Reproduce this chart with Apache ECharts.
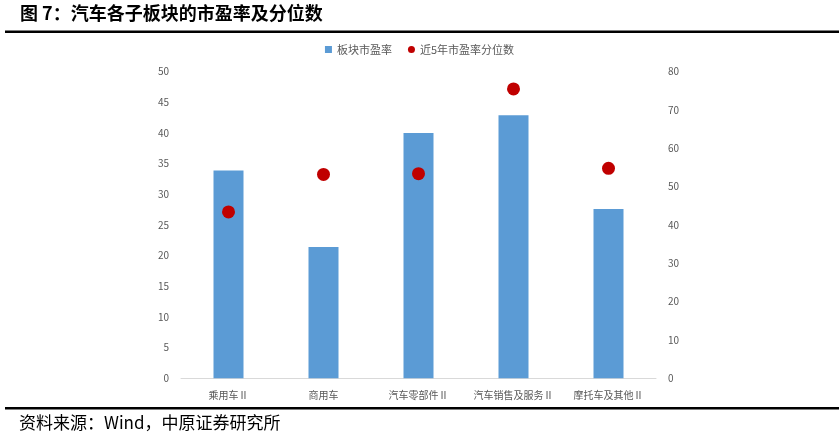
<!DOCTYPE html>
<html><head><meta charset="utf-8">
<script src="https://cdn.jsdelivr.net/npm/echarts@6/dist/echarts.min.js"></script>
<style>html,body{margin:0;padding:0;background:#fff}#c{width:839px;height:440px}</style>
</head><body><div id="c"></div>
<script>
var categories = ['乘用车Ⅱ', '商用车', '汽车零部件Ⅱ', '汽车销售及服务Ⅱ', '摩托车及其他Ⅱ'];
var peValues = [33.9, 21.4, 40.0, 42.9, 27.6];
var pctValues = [43.4, 53.2, 53.4, 75.5, 54.8];
var leftTicks = {min: 0, max: 50, interval: 5};
var rightTicks = {min: 0, max: 80, interval: 10};

var chart = echarts.init(document.getElementById('c'));
var axisLabelStyle = {color: '#595959', fontSize: 10, fontFamily: 'Noto Sans CJK SC'};
chart.setOption({
  animation: false,
  textStyle: {fontFamily: 'Noto Sans CJK SC'},
  grid: {left: 181, right: 183, top: 71.7, bottom: 61.7, containLabel: false},
  legend: {
    top: 39, left: 'center', itemGap: 16,
    textStyle: {color: '#595959', fontSize: 11},
    itemWidth: 7, itemHeight: 7, itemStyle: {borderWidth: 0, opacity: 1},
    data: [{name: '板块市盈率', icon: 'rect'}, {name: '近5年市盈率分位数', icon: 'circle'}]
  },
  xAxis: {
    type: 'category', data: categories,
    axisLine: {lineStyle: {color: '#d9d9d9'}},
    axisTick: {show: false},
    axisLabel: Object.assign({margin: 12, interval: 0}, axisLabelStyle)
  },
  yAxis: [
    {type: 'value', min: leftTicks.min, max: leftTicks.max, interval: leftTicks.interval,
     splitLine: {show: false}, axisLine: {show: false}, axisTick: {show: false},
     axisLabel: Object.assign({margin: 12}, axisLabelStyle)},
    {type: 'value', min: rightTicks.min, max: rightTicks.max, interval: rightTicks.interval,
     splitLine: {show: false}, axisLine: {show: false}, axisTick: {show: false},
     axisLabel: Object.assign({margin: 12}, axisLabelStyle)}
  ],
  series: [
    {name: '板块市盈率', type: 'bar', data: peValues, barWidth: 30,
     itemStyle: {color: '#5b9bd5'}},
    {name: '近5年市盈率分位数', type: 'scatter', yAxisIndex: 1, data: pctValues,
     symbol: 'circle', symbolSize: 13, itemStyle: {color: '#c00000', opacity: 1}}
  ],
  graphic: [
    {type: 'text', left: 20, top: 4, style: {text: '图 7：汽车各子板块的市盈率及分位数', fill: '#000', font: 'bold 18px "Noto Sans CJK SC"'}},
    {type: 'rect', shape: {x: 5, y: 30.5, width: 834, height: 2.5}, style: {fill: '#000'}},
    {type: 'rect', shape: {x: 5, y: 407, width: 834, height: 2.5}, style: {fill: '#000'}},
    {type: 'text', left: 19, top: 414, style: {text: '资料来源：Wind，中原证券研究所', fill: '#000', font: '17px "Noto Sans CJK SC"'}}
  ]
});
</script></body></html>
